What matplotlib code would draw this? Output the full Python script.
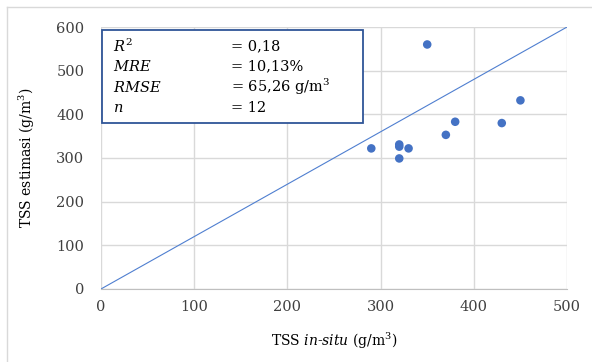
import matplotlib.pyplot as plt
from matplotlib.lines import Line2D
from matplotlib.patches import Rectangle

# data
tss_insitu = [350, 290, 320, 320, 330, 320, 370, 380, 430, 450]
tss_estimasi = [560, 322, 331, 326, 322, 299, 353, 383, 380, 432]
line_x = [0, 500]
line_y = [0, 600]

stat_names = ['$R^2$', '$MRE$', '$RMSE$', '$n$']
stat_values = ['= 0,18', '= 10,13%', '= 65,26 g/m$^3$', '= 12']

plt.rcParams['font.family'] = 'DejaVu Serif'
plt.rcParams['mathtext.fontset'] = 'dejavuserif'

fig = plt.figure(figsize=(5.92, 3.62), dpi=100)
ax = fig.add_axes([0.1706, 0.2017, 0.7872, 0.7237])

ax.plot(line_x, line_y, color='#4F7FD0', lw=0.8, zorder=2)
ax.scatter(tss_insitu, tss_estimasi, s=38, color='#4472C4', zorder=3, edgecolors='none')

ax.set_xlim(0, 500)
ax.set_ylim(0, 600)
ax.set_xticks(range(0, 501, 100))
ax.set_yticks(range(0, 601, 100))
ax.grid(True, color='#D9D9D9', lw=1)
ax.set_axisbelow(True)
for s in ax.spines.values():
    s.set_visible(False)
ax.spines['bottom'].set_visible(True)
ax.spines['bottom'].set_color('#BFBFBF')
ax.tick_params(length=0, labelsize=10.5, colors='#404040')
ax.tick_params(axis='x', pad=8)
ax.tick_params(axis='y', pad=12)

ax.set_xlabel('TSS $\\it{in}$-$\\it{situ}$ (g/m$^3$)', fontsize=10, labelpad=12)
ax.set_ylabel('TSS estimasi (g/m$^3$)', fontsize=10, labelpad=14)

# stats box
fig.patches.append(Rectangle((102 / 592, 1 - 123 / 362), 261 / 592, 93 / 362,
                             transform=fig.transFigure, fill=True, facecolor='white',
                             edgecolor='#2F5597', lw=1.3, zorder=5))
for i, (nm, val) in enumerate(zip(stat_names, stat_values)):
    y = 1 - (46 + i * 20.5) / 362
    fig.text(113 / 592, y, nm, fontsize=10.5, va='center', zorder=6)
    fig.text(231 / 592, y, val, fontsize=10.5, va='center', zorder=6)

# outer chart border
fig.add_artist(Line2D([7 / 592, 7 / 592], [0, 1 - 7 / 362], transform=fig.transFigure, color='#D9D9D9', lw=1))
fig.add_artist(Line2D([7 / 592, 1], [1 - 7 / 362, 1 - 7 / 362], transform=fig.transFigure, color='#D9D9D9', lw=1))

fig.savefig('out.png', dpi=100)
